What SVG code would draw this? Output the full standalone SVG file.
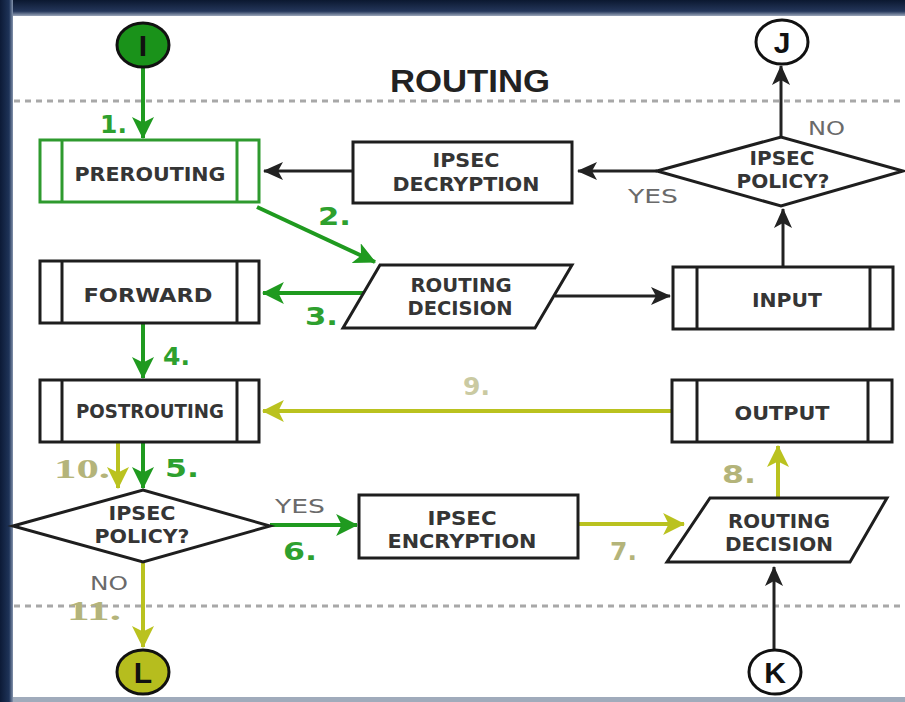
<svg xmlns="http://www.w3.org/2000/svg" width="905" height="702" viewBox="0 0 905 702">
<style>
.box{fill:#fff;stroke:#1e1e1e;stroke-width:3}
.gbox{fill:#fff;stroke:#2e9a2e;stroke-width:3}
.in{stroke:#1e1e1e;stroke-width:3}
.gin{stroke:#2e9a2e;stroke-width:3}
.lbl{font-family:"DejaVu Sans",sans-serif;font-weight:bold;font-size:20px;fill:#353535;text-anchor:middle}
.yn{font-family:"DejaVu Sans",sans-serif;font-size:19px;fill:#6a6a6a}
.num{font-family:"DejaVu Sans",sans-serif;font-weight:bold;font-size:25px}
.g{fill:#2ea02e}
.o{fill:#b4b47a}
.ser{font-family:"Liberation Serif",serif;font-weight:bold;font-size:27px}
.k{fill:none;stroke:#222;stroke-width:3}
.gr{fill:none;stroke:#1f9a1f;stroke-width:4}
.ol{fill:none;stroke:#bac21f;stroke-width:4}
.dash{stroke:#a8a8a8;stroke-width:3;stroke-dasharray:6 5}
.circ{font-family:"Liberation Sans",sans-serif;font-weight:bold;font-size:30px;fill:#111;text-anchor:middle}
</style>
<defs>
<linearGradient id="left" x1="0" y1="0" x2="1" y2="0">
<stop offset="0" stop-color="#0c1a36"/><stop offset="0.7" stop-color="#1e3358"/><stop offset="1" stop-color="#8594ad"/>
</linearGradient>
<linearGradient id="top" x1="0" y1="0" x2="0" y2="1">
<stop offset="0" stop-color="#0b1830"/><stop offset="0.7" stop-color="#24365a"/><stop offset="1" stop-color="#9aa6ba"/>
</linearGradient>
<marker id="ak" viewBox="0 0 20 20" markerWidth="20" markerHeight="20" refX="19" refY="10" orient="auto" markerUnits="userSpaceOnUse"><path d="M0,1 L20,10 L0,19 L5,10 z" fill="#222"/></marker>
<marker id="ag" viewBox="0 0 20 20" markerWidth="22" markerHeight="22" refX="19" refY="10" orient="auto" markerUnits="userSpaceOnUse"><path d="M0,0 L20,10 L0,20 L5,10 z" fill="#1f9a1f"/></marker>
<marker id="ao" viewBox="0 0 20 20" markerWidth="22" markerHeight="22" refX="19" refY="10" orient="auto" markerUnits="userSpaceOnUse"><path d="M0,0 L20,10 L0,20 L5,10 z" fill="#bac21f"/></marker>
</defs>

<rect x="0" y="0" width="905" height="702" fill="#10213f"/>
<rect x="0" y="0" width="905" height="16" fill="url(#top)"/>
<rect x="0" y="0" width="13" height="702" fill="url(#left)"/>
<rect x="13" y="16" width="892" height="681" fill="#fff"/>
<rect x="13" y="697" width="892" height="5" fill="#a0abbb"/>

<line class="dash" x1="14" y1="101" x2="905" y2="101"/>
<line class="dash" x1="14" y1="606" x2="905" y2="606"/>
<text x="470" y="92" font-family="Liberation Sans, sans-serif" font-weight="bold" font-size="31" fill="#222" text-anchor="middle" textLength="160" lengthAdjust="spacingAndGlyphs">ROUTING</text>

<g id="connectors">
<path class="gr" d="M143,67 V138" marker-end="url(#ag)"/>
<path class="gr" d="M257,207 L375,262" marker-end="url(#ag)"/>
<path class="gr" d="M372,293 H263" marker-end="url(#ag)"/>
<path class="gr" d="M143,323 V378" marker-end="url(#ag)"/>
<path class="gr" d="M143,443 V488" marker-end="url(#ag)"/>
<path class="ol" d="M118,443 V488" marker-end="url(#ao)"/>
<path class="gr" d="M270,525 H357" marker-end="url(#ag)"/>
<path class="ol" d="M579,524 H684" marker-end="url(#ao)"/>
<path class="ol" d="M778,498 V446" marker-end="url(#ao)"/>
<path class="ol" d="M671,411 H263" marker-end="url(#ao)"/>
<path class="ol" d="M143,563 V647" marker-end="url(#ao)"/>
<path class="k" d="M353,171 H264" marker-end="url(#ak)"/>
<path class="k" d="M657,171 H578" marker-end="url(#ak)"/>
<path class="k" d="M781,137 V66" marker-end="url(#ak)"/>
<path class="k" d="M783,267 V209" marker-end="url(#ak)"/>
<path class="k" d="M555,296 H670" marker-end="url(#ak)"/>
<path class="k" d="M774,650 V567" marker-end="url(#ak)"/>
<text class="num g" x="100" y="133">1.</text>
<text class="num g" x="318" y="225" textLength="33" lengthAdjust="spacingAndGlyphs">2.</text>
<text class="num g" x="305" y="325" textLength="33" lengthAdjust="spacingAndGlyphs">3.</text>
<text class="num g" x="163" y="365">4.</text>
<text class="num g" x="165" y="477" textLength="34" lengthAdjust="spacingAndGlyphs">5.</text>
<text class="num g" x="283" y="560" textLength="34" lengthAdjust="spacingAndGlyphs">6.</text>
<text class="num" x="463" y="395" fill="#cacaa2" font-weight="normal">9.</text>
<text class="ser o" x="54" y="478" textLength="56" lengthAdjust="spacingAndGlyphs">10.</text>
<text class="num o" x="610" y="560" font-weight="normal">7.</text>
<text class="num o" x="722" y="483" textLength="34" lengthAdjust="spacingAndGlyphs">8.</text>
<text class="ser o" x="67" y="620" textLength="54" lengthAdjust="spacingAndGlyphs">11.</text>
<text class="yn" x="628" y="203" textLength="50" lengthAdjust="spacingAndGlyphs">YES</text>
<text class="yn" x="808" y="135" textLength="37" lengthAdjust="spacingAndGlyphs">NO</text>
<text class="yn" x="275" y="513" textLength="50" lengthAdjust="spacingAndGlyphs">YES</text>
<text class="yn" x="90" y="590" textLength="38" lengthAdjust="spacingAndGlyphs">NO</text>
</g>

<g id="node-I">
<ellipse cx="143" cy="45" rx="26" ry="22" fill="#1a921a" stroke="#111" stroke-width="3"/>
<text class="circ" x="143" y="56">I</text>
</g>
<g id="node-J">
<ellipse cx="782" cy="42" rx="26" ry="22" fill="#fff" stroke="#111" stroke-width="3"/>
<text class="circ" x="782" y="53">J</text>
</g>
<g id="node-K">
<ellipse cx="775" cy="672" rx="26" ry="22" fill="#fff" stroke="#111" stroke-width="3"/>
<text class="circ" x="775" y="683">K</text>
</g>
<g id="node-L">
<ellipse cx="143" cy="672" rx="26" ry="22" fill="#b6bd1e" stroke="#111" stroke-width="3"/>
<text class="circ" x="143" y="683">L</text>
</g>

<g id="node-prerouting">
<rect class="gbox" x="40" y="140" width="219" height="62"/>
<line class="gin" x1="62" y1="140" x2="62" y2="202"/>
<line class="gin" x1="237" y1="140" x2="237" y2="202"/>
<text class="lbl" x="150" y="181" textLength="151" lengthAdjust="spacingAndGlyphs">PREROUTING</text>
</g>
<g id="node-decryption">
<rect class="box" x="353" y="142" width="219" height="61"/>
<text class="lbl" x="466" y="167" textLength="67" lengthAdjust="spacingAndGlyphs">IPSEC</text>
<text class="lbl" x="466" y="191" textLength="147" lengthAdjust="spacingAndGlyphs">DECRYPTION</text>
</g>
<g id="node-policy-in">
<polygon class="box" points="657,171 781,137 903,171 781,206"/>
<text class="lbl" x="782" y="165" textLength="65" lengthAdjust="spacingAndGlyphs">IPSEC</text>
<text class="lbl" x="783" y="188" textLength="93" lengthAdjust="spacingAndGlyphs">POLICY?</text>
</g>
<g id="node-forward">
<rect class="box" x="40" y="261" width="219" height="62"/>
<line class="in" x1="62" y1="261" x2="62" y2="323"/>
<line class="in" x1="237" y1="261" x2="237" y2="323"/>
<text class="lbl" x="148" y="302" textLength="129" lengthAdjust="spacingAndGlyphs">FORWARD</text>
</g>
<g id="node-routing-decision-1">
<polygon class="box" points="380,265 572,265 535,328 343,328"/>
<text class="lbl" x="461" y="292" textLength="101" lengthAdjust="spacingAndGlyphs">ROUTING</text>
<text class="lbl" x="460" y="315" textLength="105" lengthAdjust="spacingAndGlyphs">DECISION</text>
</g>
<g id="node-input">
<rect class="box" x="673" y="267" width="220" height="62"/>
<line class="in" x1="697" y1="267" x2="697" y2="329"/>
<line class="in" x1="870" y1="267" x2="870" y2="329"/>
<text class="lbl" x="787" y="307" textLength="70" lengthAdjust="spacingAndGlyphs">INPUT</text>
</g>
<g id="node-postrouting">
<rect class="box" x="40" y="380" width="219" height="62"/>
<line class="in" x1="62" y1="380" x2="62" y2="442"/>
<line class="in" x1="237" y1="380" x2="237" y2="442"/>
<text class="lbl" x="150" y="418" font-size="17" textLength="148" lengthAdjust="spacingAndGlyphs">POSTROUTING</text>
</g>
<g id="node-output">
<rect class="box" x="672" y="380" width="220" height="62"/>
<line class="in" x1="697" y1="380" x2="697" y2="442"/>
<line class="in" x1="868" y1="380" x2="868" y2="442"/>
<text class="lbl" x="782" y="420" textLength="95" lengthAdjust="spacingAndGlyphs">OUTPUT</text>
</g>
<g id="node-policy-out">
<polygon class="box" points="13,526 143,490 270,526 143,562"/>
<text class="lbl" x="142" y="520" textLength="67" lengthAdjust="spacingAndGlyphs">IPSEC</text>
<text class="lbl" x="142" y="543" textLength="95" lengthAdjust="spacingAndGlyphs">POLICY?</text>
</g>
<g id="node-encryption">
<rect class="box" x="359" y="495" width="219" height="63"/>
<text class="lbl" x="462" y="525" textLength="69" lengthAdjust="spacingAndGlyphs">IPSEC</text>
<text class="lbl" x="462" y="548" textLength="149" lengthAdjust="spacingAndGlyphs">ENCRYPTION</text>
</g>
<g id="node-routing-decision-2">
<polygon class="box" points="710,498 887,498 850,562 667,562"/>
<text class="lbl" x="779" y="528" textLength="102" lengthAdjust="spacingAndGlyphs">ROUTING</text>
<text class="lbl" x="779" y="551" textLength="108" lengthAdjust="spacingAndGlyphs">DECISION</text>
</g>
</svg>
